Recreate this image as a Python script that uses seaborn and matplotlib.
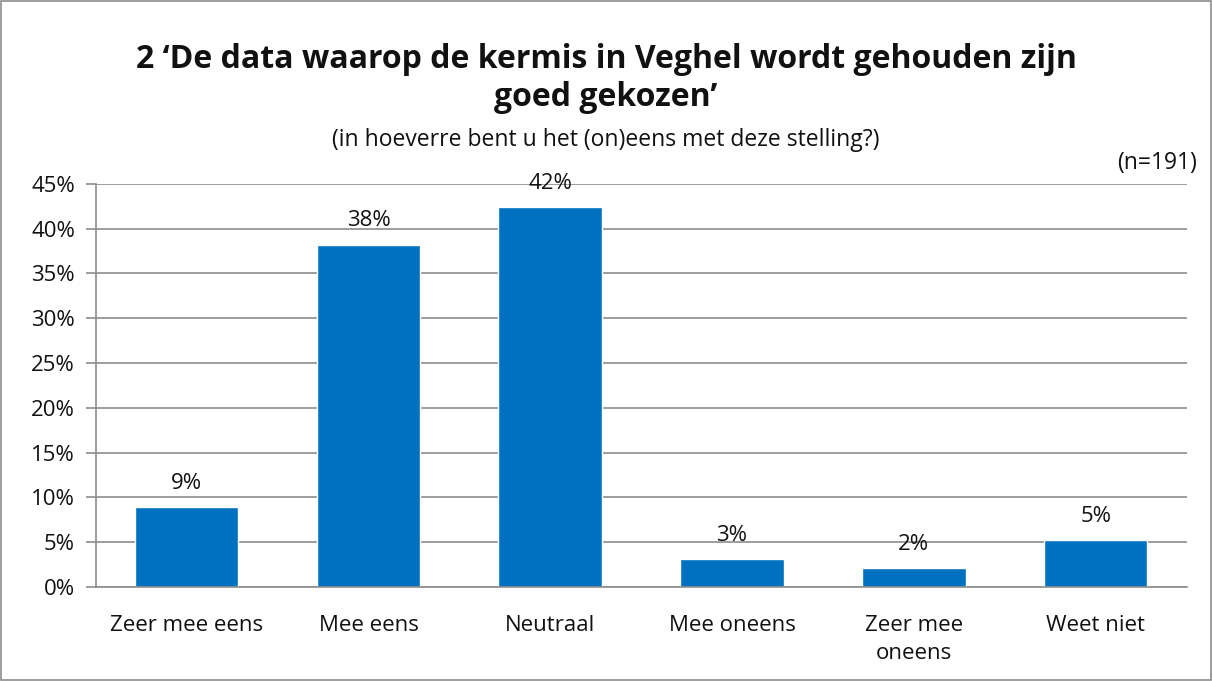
import matplotlib
matplotlib.use("Agg")
import matplotlib.pyplot as plt
import seaborn as sns
import pandas as pd
import numpy as np
from matplotlib.patches import Rectangle

categories = ["Zeer mee eens", "Mee eens", "Neutraal", "Mee oneens", "Zeer mee\noneens", "Weet niet"]
values = [8.9, 38.2, 42.4, 3.1, 2.1, 5.2]
labels = ["9%", "38%", "42%", "3%", "2%", "5%"]
yticks = [0, 5, 10, 15, 20, 25, 30, 35, 40, 45]

sns.set_theme(style="white")
plt.rcParams['font.family'] = ['Open Sans', 'DejaVu Sans']
plt.rcParams['text.color'] = '#111111'
plt.rcParams['xtick.color'] = '#111111'
plt.rcParams['ytick.color'] = '#111111'

df = pd.DataFrame({"cat": categories, "val": values})

fig = plt.figure(figsize=(12.12, 6.81), dpi=100)
ax = fig.add_axes([0.079, 0.138, 0.900, 0.592])
sns.barplot(data=df, x="cat", y="val", color="#0070C0", saturation=1, width=0.57, ax=ax)

ax.set_ylim(0, 45)
ax.set_xlim(-0.5, len(categories) - 0.5)
ax.set_yticks(yticks)
ax.set_yticklabels([f"{t}%" for t in yticks], fontsize=16)
ax.yaxis.grid(True, color="#8c8c8c", linewidth=1.2)
ax.set_axisbelow(True)
ax.set_xlabel("")
ax.set_ylabel("")
ax.tick_params(axis="x", which="major", length=0, labelsize=16, pad=20)
for t in ax.get_xticklabels():
    t.set_linespacing(1.45)
ax.set_xticks(np.arange(-0.5, len(categories)), minor=True)
ax.tick_params(axis="x", which="minor", length=7, color="#8c8c8c", width=1.2)
ax.tick_params(axis="y", which="major", length=7, color="#8c8c8c", width=1.2, left=True, pad=8,
               labelcolor="#111111")
for s in ["top", "right"]:
    ax.spines[s].set_visible(False)
for s in ["left", "bottom"]:
    ax.spines[s].set_color("#8c8c8c")
    ax.spines[s].set_linewidth(1.2)

for i, (v, l) in enumerate(zip(values, labels)):
    ax.text(i, v + 1.5, l, ha="center", va="bottom", fontsize=16)

fig.text(0.5, 0.885, "2 \u2018De data waarop de kermis in Veghel wordt gehouden zijn\ngoed gekozen\u2019",
         ha="center", va="center", fontsize=23, fontweight="bold", linespacing=1.2)
fig.text(0.5, 0.794, "(in hoeverre bent u het (on)eens met deze stelling?)", ha="center", va="center", fontsize=16.5)
fig.text(0.988, 0.76, "(n=191)", ha="right", va="center", fontsize=16.5)

fig.patches.append(Rectangle((0.001, 0.001), 0.998, 0.998, transform=fig.transFigure,
                             fill=False, edgecolor="#8c8c8c", linewidth=1.2))

fig.savefig("out.png", dpi=100)
